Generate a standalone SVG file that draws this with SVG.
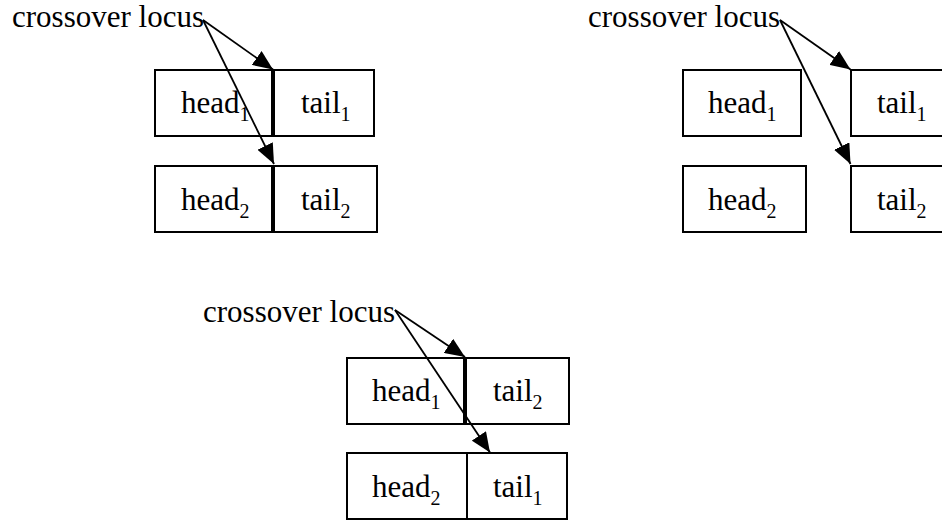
<svg xmlns="http://www.w3.org/2000/svg" width="942" height="520" viewBox="0 0 942 520">
  <style>
    .box { fill: #ffffff; stroke: #000000; stroke-width: 2; }
    .lbl { font-family: "Liberation Serif", "Times New Roman", serif; font-size: 31px; fill: #000000; }
    .sub { font-size: 20px; }
    .arrow { stroke: #000000; stroke-width: 1.8; fill: none; marker-end: url(#tip); }
  </style>
  <defs>
    <marker id="tip" markerUnits="userSpaceOnUse" markerWidth="20" markerHeight="17" refX="20" refY="8.5" orient="auto">
      <path d="M0,0 L20,8.5 L0,17 z" fill="#000000"/>
    </marker>
  </defs>
  <rect width="942" height="520" fill="#ffffff"/>

  <!-- parents before crossover -->
  <g id="panel1-head1"><rect class="box" x="155" y="70" width="117" height="66"/><text class="lbl" x="181" y="113">head<tspan class="sub" dy="8">1</tspan></text></g>
  <g id="panel1-tail1"><rect class="box" x="274" y="70" width="100" height="66"/><text class="lbl" x="301" y="113">tail<tspan class="sub" dy="8">1</tspan></text></g>
  <g id="panel1-head2"><rect class="box" x="155" y="166" width="117" height="66"/><text class="lbl" x="181" y="210">head<tspan class="sub" dy="8">2</tspan></text></g>
  <g id="panel1-tail2"><rect class="box" x="274" y="166" width="103" height="66"/><text class="lbl" x="301" y="210">tail<tspan class="sub" dy="8">2</tspan></text></g>
  <g id="panel1-label"><text class="lbl" x="12" y="27">crossover locus</text></g>

  <!-- parents split at the locus -->
  <g id="panel2-head1"><rect class="box" x="683" y="70" width="118" height="66"/><text class="lbl" x="708" y="113">head<tspan class="sub" dy="8">1</tspan></text></g>
  <g id="panel2-tail1"><rect class="box" x="851" y="70" width="100" height="66"/><text class="lbl" x="877" y="113">tail<tspan class="sub" dy="8">1</tspan></text></g>
  <g id="panel2-head2"><rect class="box" x="683" y="166" width="123" height="66"/><text class="lbl" x="708" y="210">head<tspan class="sub" dy="8">2</tspan></text></g>
  <g id="panel2-tail2"><rect class="box" x="851" y="166" width="100" height="66"/><text class="lbl" x="877" y="210">tail<tspan class="sub" dy="8">2</tspan></text></g>
  <g id="panel2-label"><text class="lbl" x="588" y="27">crossover locus</text></g>

  <!-- offspring after crossover -->
  <g id="panel3-head1"><rect class="box" x="347" y="358" width="117" height="66"/><text class="lbl" x="372" y="401">head<tspan class="sub" dy="8">1</tspan></text></g>
  <g id="panel3-tail2"><rect class="box" x="466" y="358" width="103" height="66"/><text class="lbl" x="493" y="401">tail<tspan class="sub" dy="8">2</tspan></text></g>
  <g id="panel3-head2"><rect class="box" x="347" y="453" width="120" height="66"/><text class="lbl" x="372" y="497">head<tspan class="sub" dy="8">2</tspan></text></g>
  <g id="panel3-tail1"><rect class="box" x="467" y="453" width="100" height="66"/><text class="lbl" x="493" y="497">tail<tspan class="sub" dy="8">1</tspan></text></g>
  <g id="panel3-label"><text class="lbl" x="203" y="322">crossover locus</text></g>

  <g id="connectors">
    <line class="arrow" x1="203" y1="20" x2="273" y2="69.5"/>
    <line class="arrow" x1="203" y1="20" x2="274" y2="164"/>
    <line class="arrow" x1="780" y1="20" x2="850.5" y2="69.5"/>
    <line class="arrow" x1="780" y1="20" x2="850.5" y2="164"/>
    <line class="arrow" x1="395" y1="310" x2="465" y2="357"/>
    <line class="arrow" x1="395" y1="310" x2="490" y2="452.5"/>
  </g>
</svg>
